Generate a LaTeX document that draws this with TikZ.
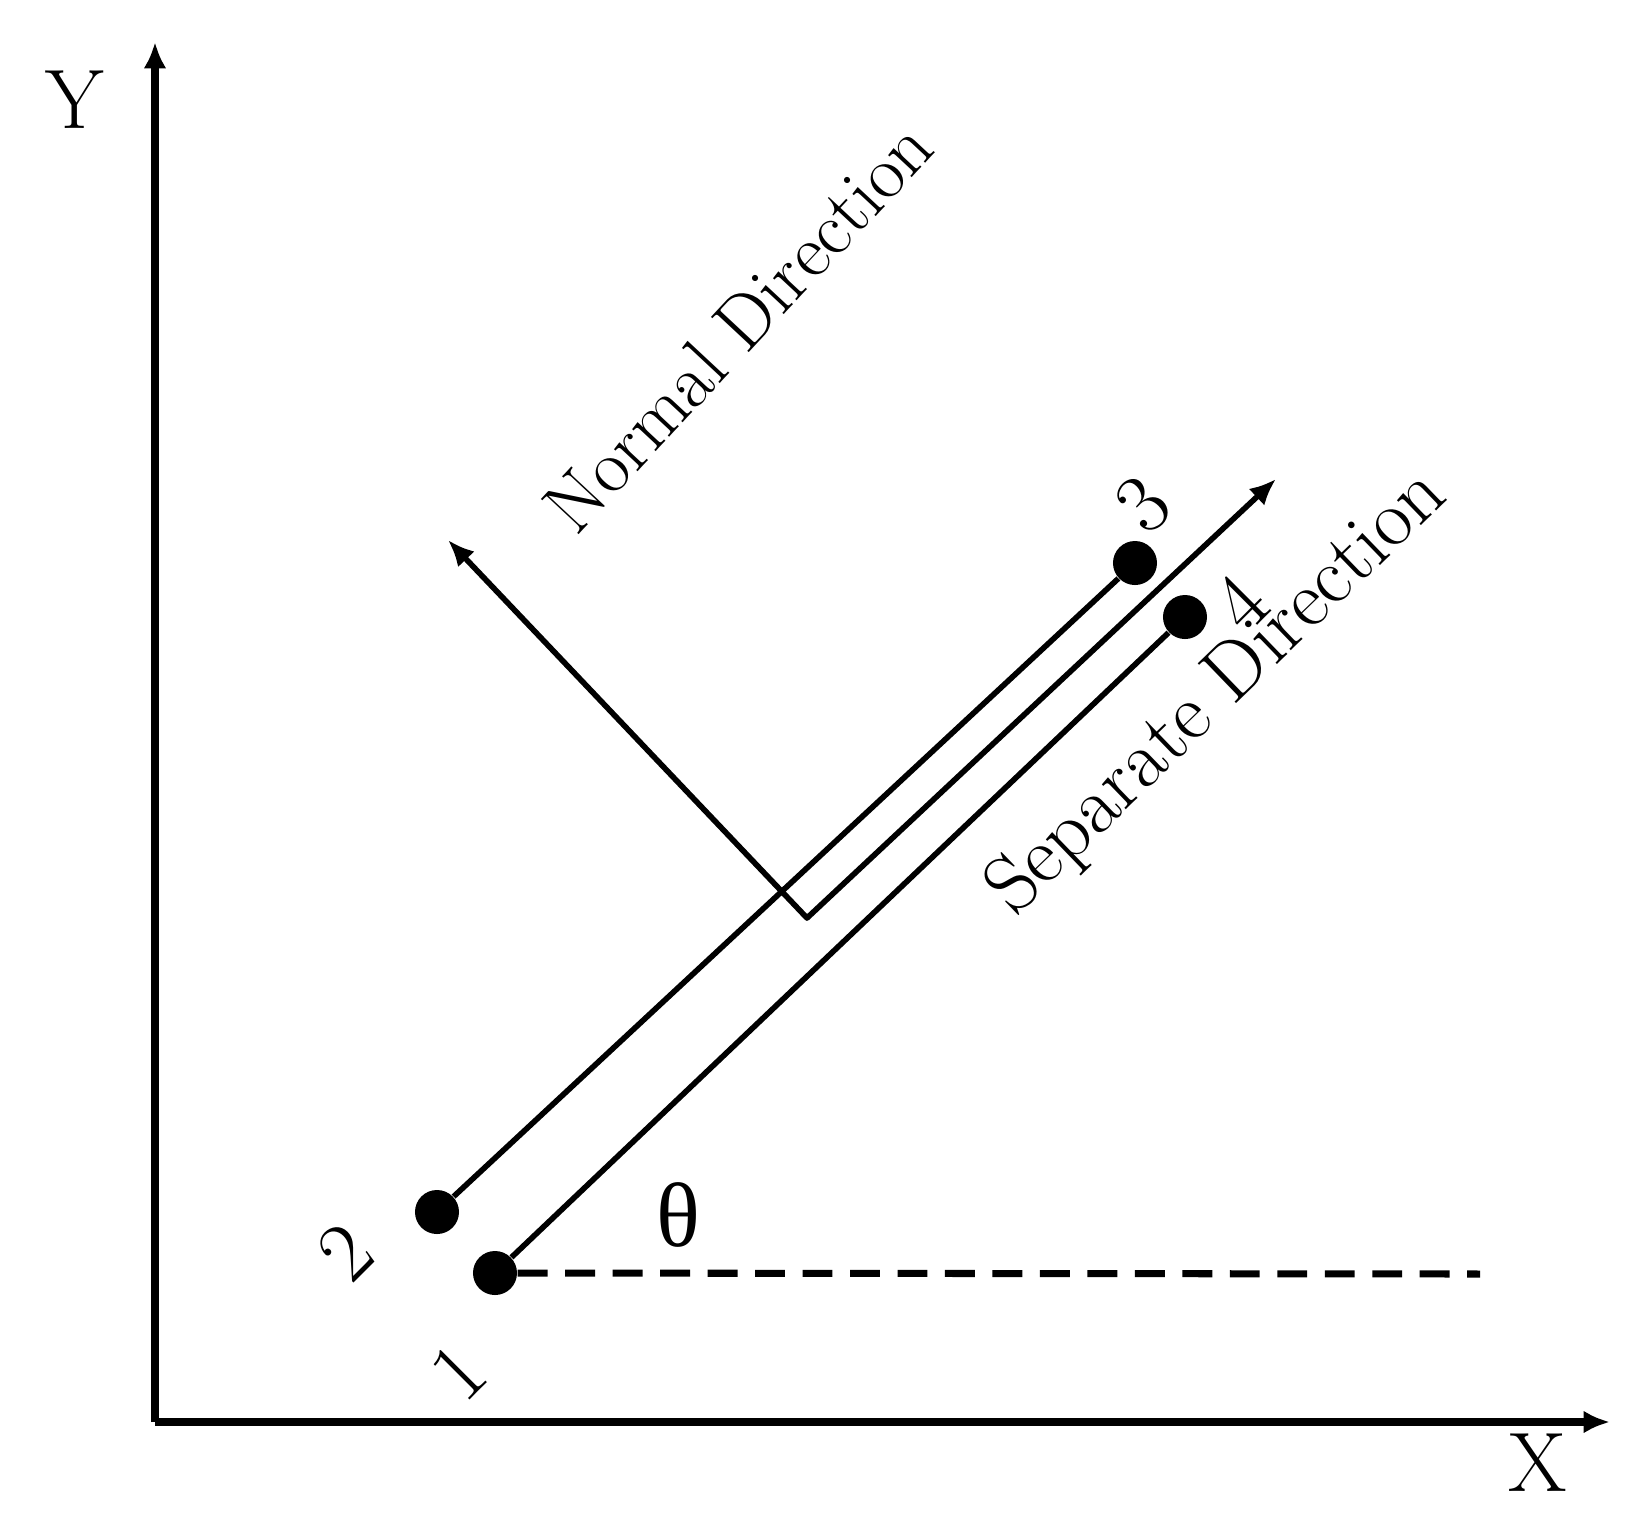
\documentclass[tikz,border=0pt]{standalone}
\usepackage{amsmath}
\usepackage{fontspec}
\newfontfamily\greekfont{Liberation Serif}
\usetikzlibrary{arrows.meta,positioning}

\begin{document}
\begin{tikzpicture}[x = 0.01cm, y = -0.01cm,
    >={Latex[length=7.5pt,width=6.5pt]},
    dot/.style = {circle, fill, inner sep = 0pt, minimum size = 0.44cm},
    num/.style = {rotate = 45, font = \fontsize{24}{28}\selectfont},
    dirlabel/.style = {anchor = base, font = \fontsize{21.5}{26}\selectfont}]
    \useasboundingbox (0,0) rectangle (1644,1535);
    % axes
    \coordinate (o) at (155,1422);
    \coordinate (ytip) at (155,42);
    \coordinate (xtip) at (1610,1422);
    \draw[->, line width = 2.2pt] (o) -- (ytip);
    \draw[->, line width = 2.2pt] (o) -- (xtip);
    \node[font = \fontsize{24}{28}\selectfont] (ylab) at (75,100) {Y};
    \node[font = \fontsize{24}{28}\selectfont] (xlab) at (1538,1463) {X};
    % end points of the two strips
    \node[dot] (p1) at (495,1273) {};
    \node[dot] (p2) at (437,1212) {};
    \node[dot] (p3) at (1135,563) {};
    \node[dot] (p4) at (1185,617) {};
    \draw[line width = 1.6pt] (p2) -- (p3);
    \draw[line width = 1.6pt] (p1) -- (p4);
    \coordinate (dend) at (1480,1274);
    \draw[line width = 2pt, dash pattern = on 8.5pt off 5pt] (p1) -- (dend);
    \node[num] (n1) at (458,1372) {1};
    \node[num] (n2) at (345,1252) {2};
    \node[num] (n3) at (1143,505) {3};
    \node[num] (n4) at (1240,603) {4};
    \node[font = \greekfont\fontsize{26}{30}\selectfont] (theta) at (678,1215) {θ};
    % normal and separate directions
    \coordinate (c) at (807,918);
    \coordinate (ntip) at (448,540);
    \coordinate (stip) at (1276,479);
    \draw[<->, line width = 1.6pt, line join = round] (ntip) -- (c) -- (stip);
    \node[dirlabel, rotate = 47] (nlab) at (757,344) {Normal Direction};
    \node[dirlabel, rotate = 44, font = \fontsize{23}{27}\selectfont] (slab) at (1232,708) {Separate Direction};
\end{tikzpicture}
\end{document}
